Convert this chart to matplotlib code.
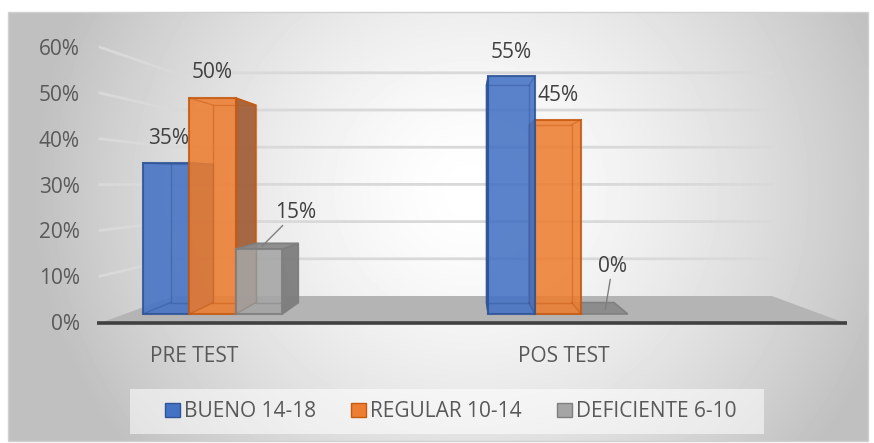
import numpy as np
import matplotlib.pyplot as plt
from matplotlib.patches import Polygon, Rectangle, Patch

plt.rcParams['font.family'] = ['Open Sans', 'DejaVu Sans']

categories = ["PRE TEST", "POS TEST"]
series_names = ["BUENO 14-18", "REGULAR 10-14", "DEFICIENTE 6-10"]
bueno = [35, 55]
regular = [50, 45]
deficiente = [15, 0]
y_ticks = [0, 10, 20, 30, 40, 50, 60]

series_values = [bueno, regular, deficiente]
face_colors = ["#4472C4", "#ED7D31", "#A5A5A5"]
edge_colors = ["#2F5597", "#C55A11", "#7F7F7F"]
side_colors = ["#3A5E9E", "#A3603A", "#7D7D7D"]
top_colors = ["#5B86D0", "#F19A5E", "#8A8A8A"]
# data label offsets in pixels (x, y), one per bar
label_offsets = [[(3, 24), (0, 24)],
                 [(0, 25), (0, 24)],
                 [(37, 37), (8, 48)]]
leader = [[False, False], [False, False], [True, True]]

W, H = 874, 443
FS = 15
fig = plt.figure(figsize=(W / 100, H / 100), dpi=100)

# pixel layout -> data units
UX, UY = 345.5, 4.32
X0, Y0 = 212.5, 314


def dx(px):
    return (px - X0) / UX


def dy(py):
    return (Y0 - py) / UY


# background with radial gradient
bg = fig.add_axes([0, 0, 1, 1], zorder=0)
bg.set_xlim(0, W)
bg.set_ylim(H, 0)
bg.axis('off')
xx, yy = np.meshgrid(np.arange(8, 868), np.arange(12, 441))
t = np.sqrt(((xx - 470) / 440) ** 2 + ((yy - 190) / 420) ** 2)
shade = 1 - 0.25 * np.clip(t, 0, 1) ** 1.5
bg.imshow(shade, cmap='gray', vmin=0, vmax=1, extent=(8, 868, 441, 12),
          aspect='auto', interpolation='bilinear')
bg.add_patch(Rectangle((8, 12), 860, 429, fill=False, edgecolor='#d0d0d0', lw=1))
bg.add_patch(Rectangle((130, 389), 634, 45, facecolor='white', alpha=0.55,
                       edgecolor='none'))

ax = fig.add_axes([97 / W, (H - 335) / H, 750 / W, 315 / H], zorder=1)
ax.set_facecolor('none')
ax.set_xlim(dx(97), dx(847))
ax.set_ylim(dy(335), dy(20))
for s in ax.spines.values():
    s.set_visible(False)

# floor, walls and gridlines
fl_front, fl_back = dy(323), dy(296)
fx0, fx1, bx0, bx1 = dx(100), dx(845), dx(174), dx(772)
ax.add_patch(Polygon([(fx0, fl_front), (fx1, fl_front), (bx1, fl_back), (bx0, fl_back)],
                     closed=True, facecolor='#b4b4b4', edgecolor='none', zorder=1))
back_scale = 3.72 / UY
label_y = [dy(322 - 4.58 * v) for v in y_ticks]
for v, ly in zip(y_ticks[1:], label_y[1:]):
    by = fl_back + back_scale * v
    ax.plot([fx0, bx0, bx1], [ly, by, by], color='#d9d9d9', lw=2, zorder=1,
            solid_joinstyle='round')
ax.plot([dx(97), dx(847)], [fl_front, fl_front], color='#404040', lw=2.6,
        solid_capstyle='round', zorder=2)

# 3D bars
vp = np.array([dx(468), dy(181)])
k = 0.086
w = 46.5 / UX
x_cat = np.arange(len(categories))

bars = []
for i, vals in enumerate(series_values):
    for j, h in enumerate(vals):
        xc = x_cat[j] + (i - 1) * w
        bars.append((abs(xc - vp[0]), i, j, xc, h))
bars.sort(reverse=True)

for order, (_, i, j, xc, h) in enumerate(bars):
    z = 3 + order * 4
    x0, x1 = xc - w / 2, xc + w / 2
    F = np.array([(x0, 0), (x1, 0), (x1, h), (x0, h)], dtype=float)
    B = F + k * (vp - F)
    if xc < vp[0]:
        side = [F[1], F[2], B[2], B[1]]
    else:
        side = [F[0], F[3], B[3], B[0]]
    if h > 0:
        ax.add_patch(Polygon(side, closed=True, facecolor=side_colors[i],
                             edgecolor=edge_colors[i], lw=1.2, alpha=0.95, zorder=z))
    if h < vp[1]:
        ax.add_patch(Polygon([F[3], F[2], B[2], B[3]], closed=True,
                             facecolor=top_colors[i], edgecolor=edge_colors[i],
                             lw=1.2, alpha=0.95, zorder=z + 1))
    if h > 0:
        ax.bar(xc, h, width=w, color=face_colors[i], alpha=0.88,
               edgecolor=edge_colors[i], lw=1.5, zorder=z + 2)
        # back edges seen through the translucent face
        ax.plot([B[0][0], B[1][0], B[2][0], B[3][0], B[0][0]],
                [B[0][1], B[1][1], B[2][1], B[3][1], B[0][1]],
                color=edge_colors[i], lw=1, alpha=0.45, zorder=z + 3)
        for a, b in zip(F, B):
            ax.plot([a[0], b[0]], [a[1], b[1]], color=edge_colors[i], lw=1,
                    alpha=0.45, zorder=z + 3)

    off = label_offsets[i][j]
    arrow = None
    if leader[i][j]:
        arrow = dict(arrowstyle='-', color='#7f7f7f', lw=1, shrinkA=0, shrinkB=3)
    ax.annotate(f"{h}%", xy=(xc, h), xytext=off, textcoords='offset pixels',
                ha='center', va='center', fontsize=FS, color='#404040',
                arrowprops=arrow, zorder=50)

# axis labels
ax.set_yticks(label_y)
ax.set_yticklabels([f"{v}%" for v in y_ticks])
tick_x = [c + 0.07 * (c - vp[0]) for c in x_cat]
ax.set_xticks(tick_x)
ax.set_xticklabels(categories)
ax.tick_params(axis='both', length=0, labelsize=FS, labelcolor='#595959')
ax.tick_params(axis='y', pad=12.5)
ax.tick_params(axis='x', pad=8)

handles = [Patch(facecolor=fc, edgecolor=ec, label=n)
           for fc, ec, n in zip(face_colors, edge_colors, series_names)]
fig.legend(handles=handles, loc='center', bbox_to_anchor=(450.5 / W, 1 - 411.5 / H),
           ncol=3, frameon=False, fontsize=FS, handlelength=0.72,
           handleheight=0.67, handletextpad=0.19, columnspacing=1.68,
           labelcolor='#595959')

fig.savefig('out.png', dpi=100)
